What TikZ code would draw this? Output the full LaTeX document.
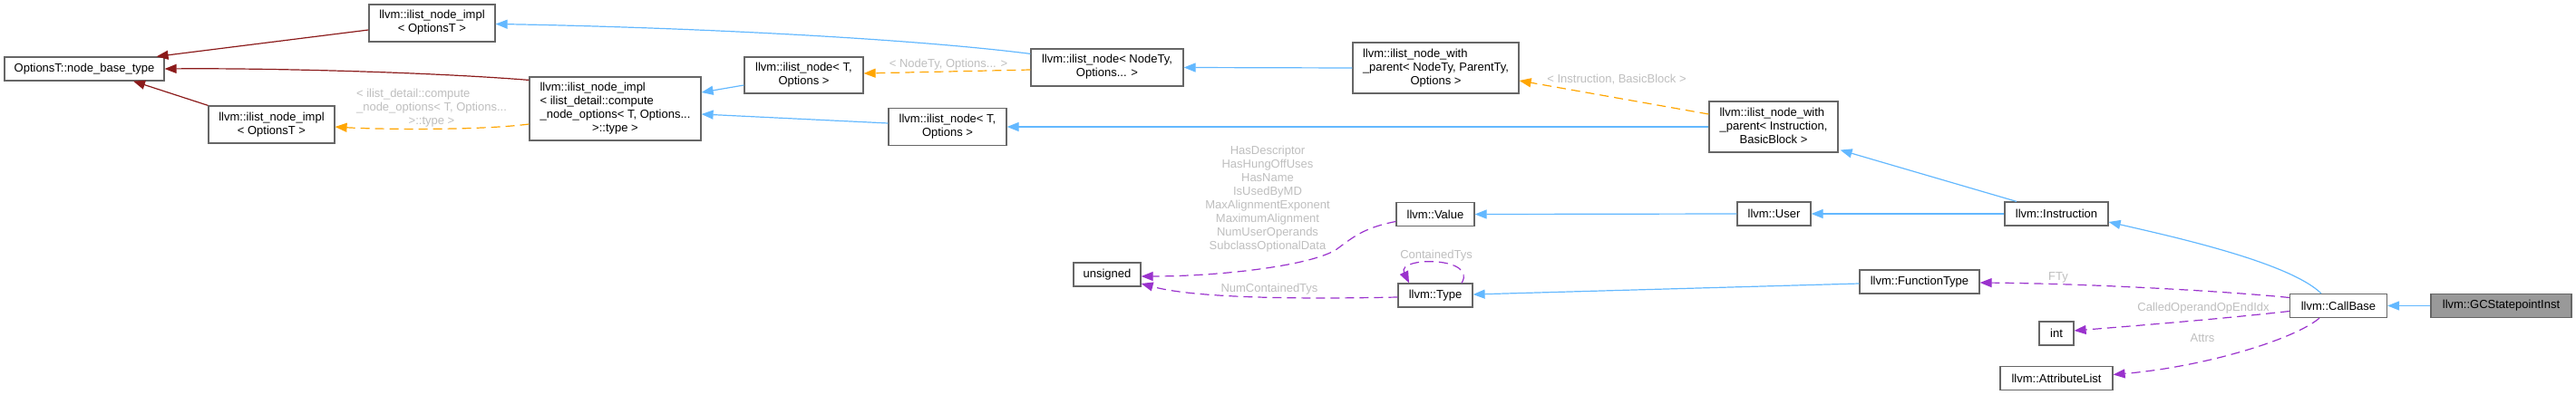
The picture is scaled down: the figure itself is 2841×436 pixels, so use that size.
\documentclass[tikz,border=0pt]{standalone}
\usepackage{fontspec}
\setmainfont{Liberation Sans}
\usetikzlibrary{arrows.meta,calc}
\definecolor{blueA}{HTML}{63B8FF}
\definecolor{redA}{HTML}{8B1A1A}
\definecolor{orangeA}{HTML}{FFA500}
\definecolor{purpleA}{HTML}{9A32CD}
\definecolor{borderA}{HTML}{666666}
\definecolor{labelA}{HTML}{BEBEBE}
\definecolor{fillA}{HTML}{999999}
\newcommand{\lastc}[1]{\multicolumn{1}{@{}c@{}}{#1}}
\begin{document}
\begin{tikzpicture}[x=1pt,y=-1pt,
  font=\fontsize{13}{15}\selectfont,
  box/.style={draw=borderA, line width=1.2pt, fill=white, inner sep=0pt, minimum height=26pt},
  lbl/.style={text=labelA, inner sep=0pt},
  tip/.style={-{Triangle[length=13pt,width=10pt]}},
  inh/.style={draw=blueA, line width=1.2pt, tip},
  inhred/.style={draw=redA, line width=1.2pt, tip},
  tmpl/.style={draw=orangeA, line width=1.2pt, dash pattern=on 10pt off 6pt, tip},
  usedge/.style={draw=purpleA, line width=1.2pt, dash pattern=on 10pt off 6pt, tip}
]
\useasboundingbox (0,0) rectangle (2841,436);

% nodes
\node[box, minimum width=176pt] (opt) at (93,76) {OptionsT::node\_base\_type};
\node[box, minimum width=139pt, minimum height=41pt] (implTop) at (476.5,25.5)
  {\begin{tabular}{@{}l@{}}llvm::ilist\_node\_impl\\\lastc{< OptionsT >}\end{tabular}};
\node[box, minimum width=139pt, minimum height=41pt] (implLow) at (299.5,137.5)
  {\begin{tabular}{@{}l@{}}llvm::ilist\_node\_impl\\\lastc{< OptionsT >}\end{tabular}};
\node[box, minimum width=189pt, minimum height=70pt] (implBig) at (678.5,120)
  {\begin{tabular}{@{}l@{}}llvm::ilist\_node\_impl\\< ilist\_detail::compute\\\_node\_options< T, Options...\\\lastc{>::type >}\end{tabular}};
\node[box, minimum width=131pt, minimum height=40pt] (nodeTup) at (886.5,83)
  {\begin{tabular}{@{}l@{}}llvm::ilist\_node< T,\\\lastc{Options >}\end{tabular}};
\node[box, minimum width=168pt, minimum height=41pt] (nodeNT) at (1221,74.5)
  {\begin{tabular}{@{}l@{}}llvm::ilist\_node< NodeTy,\\\lastc{Options... >}\end{tabular}};
\node[box, minimum width=130pt, minimum height=41pt] (nodeTlow) at (1045,140)
  {\begin{tabular}{@{}l@{}}llvm::ilist\_node< T,\\\lastc{Options >}\end{tabular}};
\node[box, minimum width=183pt, minimum height=56pt] (iwpGen) at (1583.5,75)
  {\begin{tabular}{@{}l@{}}llvm::ilist\_node\_with\\\_parent< NodeTy, ParentTy,\\\lastc{Options >}\end{tabular}};
\node[box, minimum width=142pt, minimum height=56pt] (iwpInst) at (1956,140)
  {\begin{tabular}{@{}l@{}}llvm::ilist\_node\_with\\\_parent< Instruction,\\\lastc{BasicBlock >}\end{tabular}};
\node[box, minimum width=74pt] (unsigned) at (1221,303) {unsigned};
\node[box, minimum width=86pt] (value) at (1583,236.5) {llvm::Value};
\node[box, minimum width=82pt] (type) at (1583,326) {llvm::Type};
\node[box, minimum width=81pt] (user) at (1956.5,236) {llvm::User};
\node[box, minimum width=114pt] (instr) at (2268,236) {llvm::Instruction};
\node[box, minimum width=132pt] (functype) at (2117,311) {llvm::FunctionType};
\node[box, minimum width=107pt] (callbase) at (2579,337.5) {llvm::CallBase};
\node[box, minimum width=155pt, fill=fillA] (gcsi) at (2758.5,337.5) {llvm::GCStatepointInst};
\node[box, minimum width=38pt] (int) at (2268,368) {int};
\node[box, minimum width=124pt] (attrlist) at (2268,417.5) {llvm::AttributeList};

% edges
\draw[inhred] ($(implTop.west)+(0,7.5)$) -- ($(opt.north east)+(-9,0)$);
\draw[inhred] ($(implBig.north west)+(0,4)$) .. controls (480,80) and (300,75) .. (opt.east);
\draw[inhred] (implLow.north west) -- ($(opt.south)+(54,0)$);
\draw[tmpl] ($(implBig.west)+(0,17)$) .. controls (530,144) and (420,143) .. ($(implLow.east)+(0,2.5)$);
\draw[inh] ($(nodeNT.north west)+(0,6)$) .. controls (1000,42) and (750,30) .. ($(implTop.east)+(0,1)$);
\draw[tmpl] ($(nodeNT.west)+(0,2.5)$) -- ($(nodeTup.east)+(0,-2)$);
\draw[inh] ($(nodeTup.west)+(0,11)$) -- ($(implBig.east)+(0,-18)$);
\draw[inh] ($(nodeTlow.west)+(0,-4)$) -- ($(implBig.east)+(0,6)$);
\draw[inh] (iwpGen.west) -- (nodeNT.east);
\draw[tmpl] ($(iwpInst.west)+(0,-14)$) -- ($(iwpGen.east)+(0,14)$);
\draw[inh] (iwpInst.west) -- (nodeTlow.east);
\draw[inh] ($(instr.north)+(-44,0)$) -- ($(iwpInst.south east)+(2,-3)$);
\draw[inh] (instr.west) -- (user.east);
\draw[inh] (user.west) -- (value.east);
\draw[inh] ($(callbase.north)+(-19,0)$) .. controls (2525,290) and (2400,262) .. ($(instr.east)+(0,9)$);
\draw[inh] (gcsi.west) -- (callbase.east);
\draw[inh] ($(functype.west)+(0,2)$) -- ($(type.east)+(0,-1)$);
\draw[usedge] ($(value.west)+(0,8)$) .. controls (1505,251) and (1492,262) .. (1477,273)
  .. controls (1455,292) and (1350,305) .. ($(unsigned.east)+(0,2)$);
\draw[usedge] ($(type.west)+(0,2)$) .. controls (1400,331) and (1310,327) .. ($(unsigned.east)+(0,10)$);
\draw[usedge] ($(type.north)+(29,0)$) .. controls (1630,283) and (1540,283) .. ($(type.north)+(-29,0)$);
\draw[usedge] ($(callbase.west)+(0,-9)$) .. controls (2450,321) and (2300,313) .. ($(functype.east)+(0,1)$);
\draw[usedge] ($(callbase.west)+(0,6)$) .. controls (2450,352) and (2350,360) .. ($(int.east)+(0,-3)$);
\draw[usedge] ($(callbase.south)+(-21,0)$) .. controls (2530,375) and (2430,405) .. ($(attrlist.east)+(0,-4)$);

% labels
\node[lbl] (lDet) at (476,119)
  {\begin{tabular}{@{}l@{}}< ilist\_detail::compute\\\_node\_options< T, Options...\\\lastc{>::type >}\end{tabular}};
\node[lbl] (lNT) at (1046,71) {< NodeTy, Options... >};
\node[lbl] (lIB) at (1783,88) {< Instruction, BasicBlock >};
\node[lbl] (lVal) at (1398,219.5)
  {\begin{tabular}{@{}c@{}}HasDescriptor\\HasHungOffUses\\HasName\\IsUsedByMD\\MaxAlignmentExponent\\MaximumAlignment\\NumUserOperands\\SubclassOptionalData\end{tabular}};
\node[lbl] (lNum) at (1400,319) {NumContainedTys};
\node[lbl] (lCT) at (1584,282) {ContainedTys};
\node[lbl] (lFTy) at (2270,306) {FTy};
\node[lbl] (lCO) at (2430,340) {CalledOperandOpEndIdx};
\node[lbl] (lAt) at (2429,373) {Attrs};
\end{tikzpicture}
\end{document}
